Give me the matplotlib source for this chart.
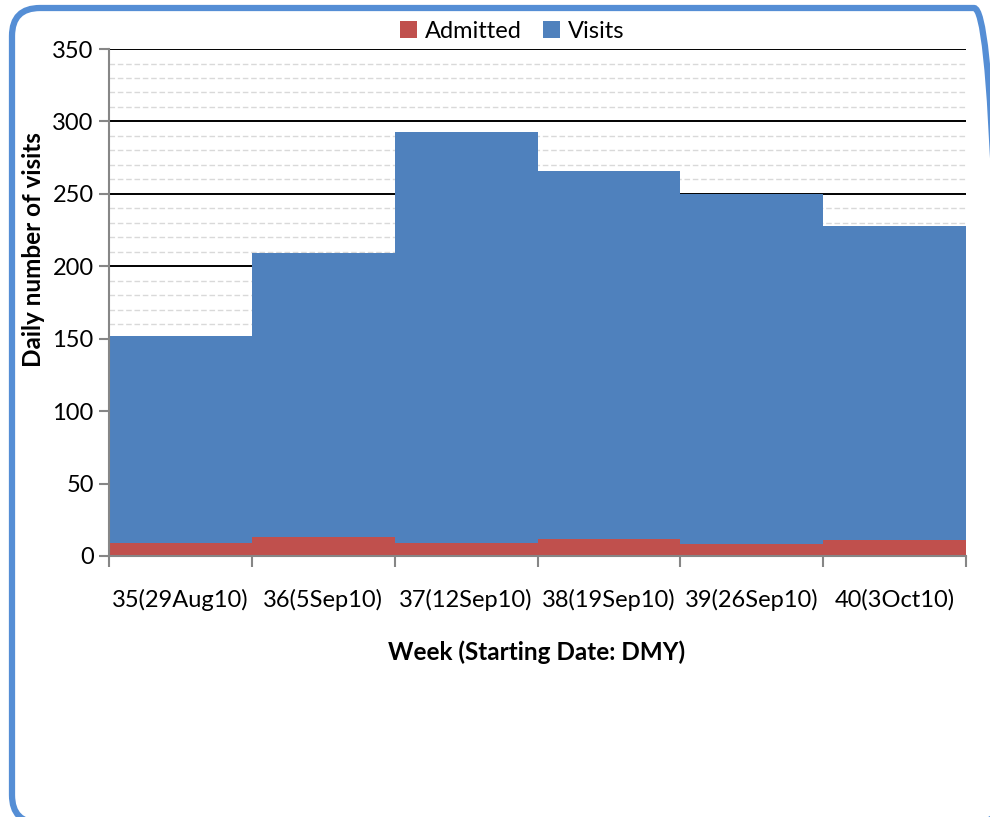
import matplotlib.pyplot as plt
from matplotlib.patches import FancyBboxPatch
from matplotlib.ticker import MultipleLocator, FixedLocator

plt.rcParams['font.family'] = ['Lato', 'DejaVu Sans']

weeks = ['35(29Aug10)', '36(5Sep10)', '37(12Sep10)', '38(19Sep10)', '39(26Sep10)', '40(3Oct10)']
visits = [152, 209, 293, 266, 250, 228]
admitted = [9, 13, 9, 12, 8, 11]

fig = plt.figure(figsize=(9.9, 8.17), dpi=100)
ax = fig.add_axes([0.1101, 0.3195, 0.8657, 0.6205])

x = range(len(weeks))
ax.bar(x, visits, width=1.0, color='#4F81BD', zorder=3, label='Visits')
ax.bar(x, admitted, width=1.0, color='#C0504D', zorder=4, label='Admitted')

ax.set_xlim(-0.5, len(weeks) - 0.5)
ax.set_ylim(0, 350)
ax.yaxis.set_major_locator(MultipleLocator(50))
ax.yaxis.set_minor_locator(MultipleLocator(10))
ax.grid(axis='y', which='major', color='black', linewidth=1.4, zorder=1)
ax.grid(axis='y', which='minor', color='#D9D9D9', linestyle=(0, (4, 2)), linewidth=1.0, zorder=0)

ax.set_xticks(list(x))
ax.set_xticklabels(weeks, fontsize=17)
ax.xaxis.set_minor_locator(FixedLocator([i - 0.5 for i in range(len(weeks) + 1)]))
ax.tick_params(axis='x', which='major', length=0, pad=24)
ax.tick_params(axis='x', which='minor', length=8, color='#868686', width=1.5, direction='out')
ax.tick_params(axis='y', which='major', length=7, color='#868686', width=1.5, labelsize=17, pad=4)
ax.tick_params(axis='y', which='minor', length=0)

for s in ['top', 'right']:
    ax.spines[s].set_visible(False)
for s in ['left', 'bottom']:
    ax.spines[s].set_color('#868686')
    ax.spines[s].set_linewidth(1.5)
    ax.spines[s].set_zorder(5)

fig.text(0.542, 1 - 652 / 817, 'Week (Starting Date: DMY)', ha='center', va='center',
         fontsize=17.5, fontweight='bold')
fig.text(34 / 990, 1 - 250 / 817, 'Daily number of visits', ha='center', va='center',
         rotation=90, fontsize=17.5, fontweight='bold')

handles, labels = ax.get_legend_handles_labels()
fig.legend(handles[::-1], labels[::-1], loc='center', bbox_to_anchor=(0.517, 1 - 31 / 817),
           ncol=2, frameon=False, fontsize=17, handlelength=0.75, handleheight=0.75,
           handletextpad=0.3, columnspacing=0.9, borderaxespad=0)

# rounded outer border, partly running off the right and bottom edges
frame = FancyBboxPatch((12, -6), 990, 815,
                       boxstyle='round,pad=0,rounding_size=28',
                       transform=None, fill=False, edgecolor='#558ED5',
                       linewidth=4.5, clip_on=False)
fig.patches.append(frame)

fig.savefig('out.png', dpi=100)
